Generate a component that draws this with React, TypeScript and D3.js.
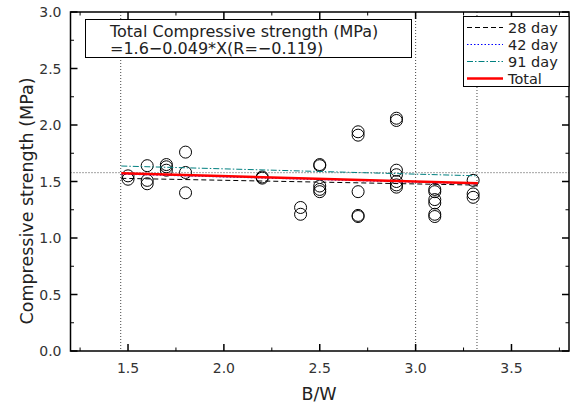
import React from "react";
import * as d3 from "d3";

const W = 570;
const H = 403;

// B/W values and compressive strength (MPa)
const bwValues = [
  1.5, 1.5,
  1.6, 1.6, 1.6,
  1.7, 1.7, 1.7,
  1.8, 1.8, 1.8,
  2.2, 2.2,
  2.4, 2.4,
  2.5, 2.5, 2.5, 2.5, 2.5,
  2.7, 2.7, 2.7, 2.7, 2.7,
  2.9, 2.9, 2.9, 2.9, 2.9, 2.9, 2.9,
  3.1, 3.1, 3.1, 3.1, 3.1, 3.1,
  3.3, 3.3, 3.3,
];
const strengthValues = [
  1.55, 1.52,
  1.64, 1.51, 1.48,
  1.65, 1.63, 1.60,
  1.76, 1.58, 1.40,
  1.54, 1.53,
  1.27, 1.21,
  1.65, 1.64, 1.46, 1.43, 1.41,
  1.94, 1.91, 1.41, 1.20, 1.19,
  2.06, 2.04, 1.60, 1.56, 1.50, 1.47, 1.45,
  1.43, 1.41, 1.34, 1.31, 1.21, 1.19,
  1.51, 1.39, 1.36,
];

// regression lines: [x start, x end] and [y start, y end]
const fitRange = [1.465, 3.325];
const fit28 = [1.528, 1.468];
const fit42 = [1.565, 1.478];
const fit91 = [1.637, 1.55];
const fitTotal = [1.573, 1.484];

const refVerticals = [1.462, 3.0, 3.32];
const refHorizontal = 1.578;

const xTicks = [1.5, 2.0, 2.5, 3.0, 3.5];
const xMinor = [1.25, 1.75, 2.25, 2.75, 3.25, 3.75];
const yTicks = [0.0, 0.5, 1.0, 1.5, 2.0, 2.5, 3.0];
const yMinor = [0.25, 0.75, 1.25, 1.75, 2.25, 2.75];

const legendLabels = ["28 day", "42 day", "91 day", "Total"];

const FONT = "'DejaVu Sans', sans-serif";

export default function App() {
  const left = 70.5;
  const right = 569;
  const top = 12;
  const bottom = 351;
  const x = d3.scaleLinear().domain([1.2, 3.8]).range([left, right]);
  const y = d3.scaleLinear().domain([0, 3]).range([bottom, top]);

  const line = d3
    .line<[number, number]>()
    .x((d) => x(d[0]))
    .y((d) => y(d[1]));
  const mk = (v: number[]) =>
    line([
      [fitRange[0], v[0]],
      [fitRange[1], v[1]],
    ]) || "";

  const fits = [
    { v: fit28, stroke: "#000", width: 1, dash: "5,3" },
    { v: fit42, stroke: "#0000ff", width: 1, dash: "1.5,2" },
    { v: fit91, stroke: "#008080", width: 1, dash: "6,2,1.5,2" },
    { v: fitTotal, stroke: "#ff0000", width: 2.5, dash: undefined },
  ];

  const legX = 463.5;
  const legY = 16.5;
  const legRowY = [27.5, 44.5, 61.5, 78.5];

  return (
    <svg width={W} height={H} style={{ position: "absolute", left: 0, top: 0 }}>
      <rect x={0} y={0} width={W} height={H} fill="#fff" />
      {/* reference dotted lines */}
      {refVerticals.map((v, i) => (
        <line
          key={"rv" + i}
          x1={x(v)}
          x2={x(v)}
          y1={top}
          y2={bottom}
          stroke="#444"
          strokeWidth={1}
          strokeDasharray="1,2"
        />
      ))}
      <line
        x1={left}
        x2={right}
        y1={y(refHorizontal)}
        y2={y(refHorizontal)}
        stroke="#444"
        strokeWidth={1}
        strokeDasharray="1,2"
      />
      {/* data points */}
      {bwValues.map((b, i) => (
        <circle
          key={"p" + i}
          cx={x(b)}
          cy={y(strengthValues[i])}
          r={6}
          fill="none"
          stroke="#000"
          strokeWidth={1}
        />
      ))}
      {/* fit lines */}
      {fits.map((f, i) => (
        <path
          key={"f" + i}
          d={mk(f.v)}
          fill="none"
          stroke={f.stroke}
          strokeWidth={f.width}
          strokeDasharray={f.dash}
        />
      ))}
      {/* frame */}
      <rect
        x={left}
        y={top}
        width={right - left}
        height={bottom - top}
        fill="none"
        stroke="#000"
        strokeWidth={1.5}
      />
      {/* ticks */}
      {xTicks.map((t) => (
        <g key={"xt" + t}>
          <line x1={x(t)} x2={x(t)} y1={bottom} y2={bottom - 7} stroke="#000" strokeWidth={1.5} />
          <line x1={x(t)} x2={x(t)} y1={top} y2={top + 7} stroke="#000" strokeWidth={1.5} />
          <text
            x={x(t)}
            y={372.5}
            textAnchor="middle"
            fontFamily={FONT}
            fontSize={14}
            fill="#333"
          >
            {t.toFixed(1)}
          </text>
        </g>
      ))}
      {xMinor.map((t) => (
        <g key={"xm" + t}>
          <line x1={x(t)} x2={x(t)} y1={bottom} y2={bottom - 3.5} stroke="#000" strokeWidth={1} />
          <line x1={x(t)} x2={x(t)} y1={top} y2={top + 3.5} stroke="#000" strokeWidth={1} />
        </g>
      ))}
      {yTicks.map((t) => (
        <g key={"yt" + t}>
          <line x1={left} x2={left + 7} y1={y(t)} y2={y(t)} stroke="#000" strokeWidth={1.5} />
          <line x1={right} x2={right - 7} y1={y(t)} y2={y(t)} stroke="#000" strokeWidth={1.5} />
          <text
            x={61.5}
            y={y(t) + 5}
            textAnchor="end"
            fontFamily={FONT}
            fontSize={14}
            fill="#333"
          >
            {t.toFixed(1)}
          </text>
        </g>
      ))}
      {yMinor.map((t) => (
        <g key={"ym" + t}>
          <line x1={left} x2={left + 3.5} y1={y(t)} y2={y(t)} stroke="#000" strokeWidth={1} />
          <line x1={right} x2={right - 3.5} y1={y(t)} y2={y(t)} stroke="#000" strokeWidth={1} />
        </g>
      ))}
      {/* axis titles */}
      <text
        x={319}
        y={400}
        textAnchor="middle"
        fontFamily={FONT}
        fontSize={17.5}
        fill="#222"
      >
        B/W
      </text>
      <text
        transform={`translate(33, 201) rotate(-90)`}
        textAnchor="middle"
        fontFamily={FONT}
        fontSize={17.5}
        fill="#222"
      >
        Compressive strength (MPa)
      </text>
      {/* annotation box */}
      <rect x={85.5} y={19.5} width={326} height={38} fill="#fff" stroke="#000" strokeWidth={1} />
      <text x={110} y={36.5} fontFamily={FONT} fontSize={16} fill="#222">
        Total Compressive strength (MPa)
      </text>
      <text x={110} y={54} fontFamily={FONT} fontSize={16} fill="#222">
        =1.6−0.049*X(R=−0.119)
      </text>
      {/* legend */}
      <rect x={legX} y={legY} width={105.5} height={70} fill="#fff" stroke="#000" strokeWidth={1} />
      {legendLabels.map((lab, i) => (
        <g key={"lg" + i}>
          <line
            x1={467}
            x2={503}
            y1={legRowY[i]}
            y2={legRowY[i]}
            stroke={fits[i].stroke}
            strokeWidth={fits[i].width}
            strokeDasharray={fits[i].dash}
          />
          <text x={508} y={legRowY[i] + 5} fontFamily={FONT} fontSize={14.5} fill="#222">
            {lab}
          </text>
        </g>
      ))}
    </svg>
  );
}
